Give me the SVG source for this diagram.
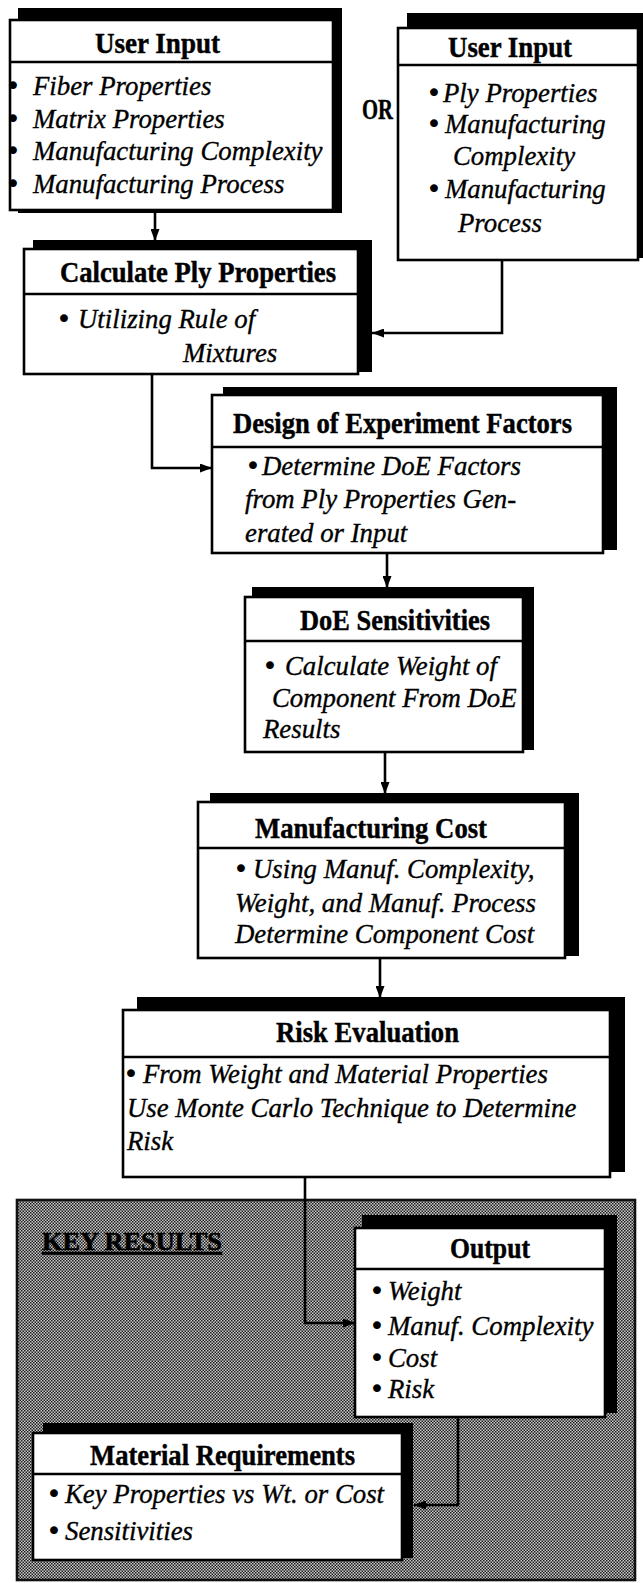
<svg xmlns="http://www.w3.org/2000/svg" width="643" height="1583" viewBox="0 0 643 1583">
<defs>
<style>
.box{fill:#fff;stroke:#000;stroke-width:2.6}
.sh{fill:#000}
.sep{stroke:#000;stroke-width:2.6}
.t{font-family:"Liberation Serif","Times New Roman",serif;font-weight:bold;font-size:30px;fill:#000;stroke:#000;stroke-width:0.45}
.i{font-family:"Liberation Serif","Times New Roman",serif;font-style:italic;font-size:26.8px;fill:#000;stroke:#000;stroke-width:0.35}
.b{font-family:"DejaVu Sans",sans-serif;font-size:27px;fill:#000}
.c{fill:none;stroke:#000;stroke-width:2.6;marker-end:url(#ah)}
</style>
<marker id="ah" markerWidth="12" markerHeight="9" refX="12" refY="4.5" orient="auto" markerUnits="userSpaceOnUse"><path d="M0,0 L12,4.5 L0,9 z" fill="#000"/></marker>
<pattern id="hatch" width="3" height="3" patternUnits="userSpaceOnUse">
<rect width="3" height="3" fill="#c8c8c8"/>
<rect width="1.5" height="1.5" fill="#1e1e1e"/>
<rect x="1.5" y="1.5" width="1.5" height="1.5" fill="#1e1e1e"/>
</pattern>
</defs>
<rect width="643" height="1583" fill="#fff"/>

<g id="key-results-panel">
<rect x="17" y="1200" width="618" height="380" fill="url(#hatch)" stroke="#111" stroke-width="2.6"/>
<text x="42" y="1250" font-family="Liberation Serif, serif" font-weight="bold" font-size="26" fill="#000" stroke="#000" stroke-width="0.6" text-decoration="underline" textLength="180" lengthAdjust="spacingAndGlyphs">KEY RESULTS</text>
</g>

<g id="connectors">
<path class="c" d="M155,210 V241"/>
<path class="c" d="M502,260 V333 H372"/>
<path class="c" d="M152,374 V468 H212"/>
<path class="c" d="M387,553 V588"/>
<path class="c" d="M385,752 V794"/>
<path class="c" d="M380,958 V998"/>
<path class="c" d="M305,1177 V1323 H355"/>
<path class="c" d="M458,1417 V1505 H414"/>
</g>

<g id="user-input-left">
<rect class="sh" x="18" y="8" width="324" height="205"/>
<rect class="box" x="10" y="20" width="323" height="190"/>
<line class="sep" x1="10" y1="62" x2="333" y2="62"/>
<text class="t" x="95" y="53" textLength="125" lengthAdjust="spacingAndGlyphs">User Input</text>
<text class="b" x="5" y="95">•</text><text class="i" x="33" y="95">Fiber Properties</text>
<text class="b" x="5" y="128">•</text><text class="i" x="33" y="128">Matrix Properties</text>
<text class="b" x="5" y="160">•</text><text class="i" x="33" y="160">Manufacturing Complexity</text>
<text class="b" x="5" y="193">•</text><text class="i" x="33" y="193">Manufacturing Process</text>
</g>

<g id="or-label">
<text class="t" x="362" y="119" font-size="31" textLength="31" lengthAdjust="spacingAndGlyphs">OR</text>
</g>

<g id="user-input-right">
<rect class="sh" x="407" y="13" width="240" height="245"/>
<rect class="box" x="398" y="28" width="240" height="232"/>
<line class="sep" x1="398" y1="65" x2="638" y2="65"/>
<text class="t" x="448" y="57" textLength="124" lengthAdjust="spacingAndGlyphs">User Input</text>
<text class="b" x="426" y="102">•</text><text class="i" x="443" y="102">Ply Properties</text>
<text class="b" x="426" y="133">•</text><text class="i" x="445" y="133">Manufacturing</text>
<text class="i" x="453" y="165">Complexity</text>
<text class="b" x="426" y="198">•</text><text class="i" x="445" y="198">Manufacturing</text>
<text class="i" x="458" y="232">Process</text>
</g>

<g id="calculate-ply">
<rect class="sh" x="33" y="240" width="339" height="132"/>
<rect class="box" x="24" y="249" width="334" height="125"/>
<line class="sep" x1="24" y1="294" x2="358" y2="294"/>
<text class="t" x="60" y="282" textLength="276" lengthAdjust="spacingAndGlyphs">Calculate Ply Properties</text>
<text class="b" x="56" y="328">•</text><text class="i" x="78" y="328">Utilizing Rule of</text>
<text class="i" x="183" y="362">Mixtures</text>
</g>

<g id="doe-factors">
<rect class="sh" x="223" y="387" width="394" height="163"/>
<rect class="box" x="212" y="395" width="391" height="158"/>
<line class="sep" x1="212" y1="447" x2="603" y2="447"/>
<text class="t" x="233" y="433" textLength="339" lengthAdjust="spacingAndGlyphs">Design of Experiment Factors</text>
<text class="b" x="245" y="475">•</text><text class="i" x="262" y="475">Determine DoE Factors</text>
<text class="i" x="245" y="508">from Ply Properties Gen-</text>
<text class="i" x="245" y="542">erated or Input</text>
</g>

<g id="doe-sensitivities">
<rect class="sh" x="252" y="587" width="282" height="163"/>
<rect class="box" x="245" y="597" width="278" height="155"/>
<line class="sep" x1="245" y1="641" x2="523" y2="641"/>
<text class="t" x="300" y="630" textLength="190" lengthAdjust="spacingAndGlyphs">DoE Sensitivities</text>
<text class="b" x="262" y="675">•</text><text class="i" x="285" y="675">Calculate Weight of</text>
<text class="i" x="272" y="707">Component From DoE</text>
<text class="i" x="263" y="738">Results</text>
</g>

<g id="manufacturing-cost">
<rect class="sh" x="210" y="793" width="369" height="163"/>
<rect class="box" x="198" y="802" width="367" height="156"/>
<line class="sep" x1="198" y1="848" x2="565" y2="848"/>
<text class="t" x="255" y="838" textLength="232" lengthAdjust="spacingAndGlyphs">Manufacturing Cost</text>
<text class="b" x="233" y="878">•</text><text class="i" x="253" y="878">Using Manuf. Complexity,</text>
<text class="i" x="235" y="912">Weight, and Manuf. Process</text>
<text class="i" x="235" y="943">Determine Component Cost</text>
</g>

<g id="risk-evaluation">
<rect class="sh" x="137" y="997" width="488" height="175"/>
<rect class="box" x="123" y="1010" width="487" height="167"/>
<line class="sep" x1="123" y1="1057" x2="610" y2="1057"/>
<text class="t" x="276" y="1042" textLength="183" lengthAdjust="spacingAndGlyphs">Risk Evaluation</text>
<text class="b" x="123" y="1083">•</text><text class="i" x="143" y="1083">From Weight and Material Properties</text>
<text class="i" x="127" y="1117">Use Monte Carlo Technique to Determine</text>
<text class="i" x="127" y="1150">Risk</text>
</g>

<g id="output">
<rect class="sh" x="362" y="1215" width="255" height="198"/>
<rect class="box" x="355" y="1228" width="250" height="189"/>
<line class="sep" x1="355" y1="1269" x2="605" y2="1269"/>
<text class="t" x="450" y="1258" textLength="80" lengthAdjust="spacingAndGlyphs">Output</text>
<text class="b" x="369" y="1300">•</text><text class="i" x="388" y="1300">Weight</text>
<text class="b" x="369" y="1335">•</text><text class="i" x="388" y="1335">Manuf. Complexity</text>
<text class="b" x="369" y="1367">•</text><text class="i" x="388" y="1367">Cost</text>
<text class="b" x="369" y="1398">•</text><text class="i" x="388" y="1398">Risk</text>
</g>

<g id="material-requirements">
<rect class="sh" x="43" y="1423" width="370" height="135"/>
<rect class="box" x="33" y="1433" width="369" height="127"/>
<line class="sep" x1="33" y1="1474" x2="402" y2="1474"/>
<text class="t" x="90" y="1465" textLength="265" lengthAdjust="spacingAndGlyphs">Material Requirements</text>
<text class="b" x="46" y="1503">•</text><text class="i" x="65" y="1503">Key Properties vs Wt. or Cost</text>
<text class="b" x="46" y="1540">•</text><text class="i" x="65" y="1540">Sensitivities</text>
</g>
</svg>
